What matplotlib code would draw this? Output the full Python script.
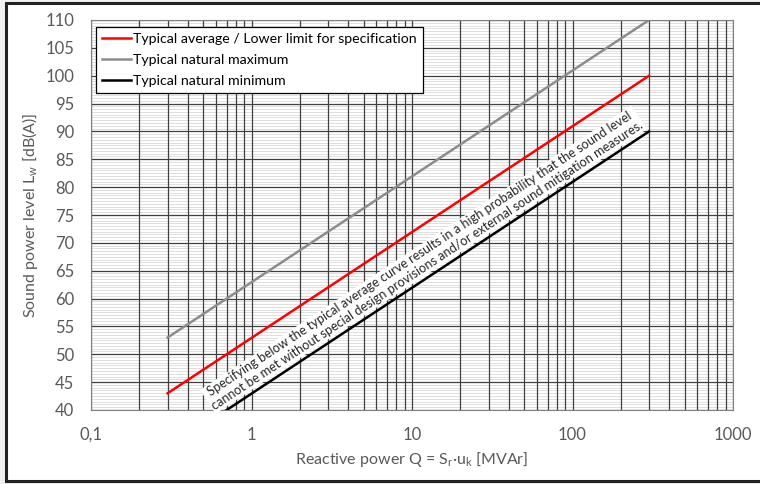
import numpy as np
import matplotlib
matplotlib.use("Agg")
from matplotlib import pyplot as plt
from matplotlib.patches import Rectangle
from matplotlib.ticker import FixedLocator, MultipleLocator

plt.rcParams['font.family'] = ['Lato', 'DejaVu Sans']

# data
q = [0.3, 300]
lw_average = [43, 100]
lw_maximum = [53, 110]
lw_minimum = [33, 90]

x_ticks = [0.1, 1, 10, 100, 1000]
x_ticklabels = ['0,1', '1', '10', '100', '1000']
note = ("Specifying below the typical average curve results in a high probability that the sound level\n"
        "cannot be met without special design provisions and/or external sound mitigation measures.")

txt_gray = '#595959'

fig = plt.figure(figsize=(7.6, 4.84), dpi=100)
fig.patch.set_facecolor('#f0f0f0')
# white page with dark frame
fig.patches.append(Rectangle((6/760, 3/484), 1.0, 478/484, transform=fig.transFigure,
                             facecolor='white', edgecolor='#222222', linewidth=2.2, zorder=-10))

ax = fig.add_axes([91/760, 1 - 410/484, (733 - 91)/760, (410 - 20)/484])
ax.set_xscale('log')
ax.set_xlim(0.1, 1000)
ax.set_ylim(40, 110)

# grid
ax.xaxis.set_major_locator(FixedLocator(x_ticks))
minors = [m * 10.0**e for e in range(-1, 3) for m in range(2, 10)]
ax.xaxis.set_minor_locator(FixedLocator(minors))
ax.yaxis.set_major_locator(MultipleLocator(5))
ax.yaxis.set_minor_locator(MultipleLocator(0.5))
ax.set_xticklabels(x_ticklabels)
ax.xaxis.set_minor_formatter(plt.NullFormatter())
ax.grid(True, axis='x', which='both', color='#404040', linewidth=0.9)
ax.grid(True, axis='y', which='major', color='#404040', linewidth=0.9)
ax.grid(True, axis='y', which='minor', color='#dedede', linewidth=0.7)
ax.set_axisbelow(True)
ax.yaxis.set_zorder(0.4)  # vertical lines over the light horizontal ones
ax.tick_params(which='both', length=0, colors=txt_gray, labelsize=12, pad=12)
ax.tick_params(axis='y', pad=12)
for s in ax.spines.values():
    s.set_color('#808080')

ax.plot(q, lw_average, color='red', linewidth=1.8, label='Typical average / Lower limit for specification')
ax.plot(q, lw_maximum, color='#8c8c8c', linewidth=1.8, label='Typical natural maximum')
ax.plot(q, lw_minimum, color='black', linewidth=1.8, label='Typical natural minimum')

leg = ax.legend(loc='upper left', fontsize=10.2, frameon=True, fancybox=False,
                handlelength=2.0, handletextpad=0.15, borderpad=0.45, labelspacing=0.62,
                borderaxespad=0, bbox_to_anchor=(5/642, 383/390))
leg.get_frame().set_edgecolor('black')
leg.get_frame().set_linewidth(0.9)
leg.get_frame().set_alpha(1)

ax.set_xlabel('Reactive power Q = S$_\\mathregular{r}$·u$_\\mathregular{k}$ [MVAr]', color=txt_gray, fontsize=11.5, labelpad=5)
ax.set_ylabel('Sound power level L$_\\mathregular{w}$ [dB(A)]', color=txt_gray, fontsize=11.5, labelpad=4)

# angle of the curves on screen
p = ax.transData.transform(np.column_stack([q, lw_average]))
angle = np.degrees(np.arctan2(p[1, 1] - p[0, 1], p[1, 0] - p[0, 0]))
ax.text(11.8, 67.0, note, rotation=angle, rotation_mode='anchor', ha='center', va='center',
        fontsize=9.2, color='#262626', linespacing=1.15,
        bbox=dict(facecolor='white', edgecolor='none', pad=1.0))

fig.savefig('out.png', dpi=100)
